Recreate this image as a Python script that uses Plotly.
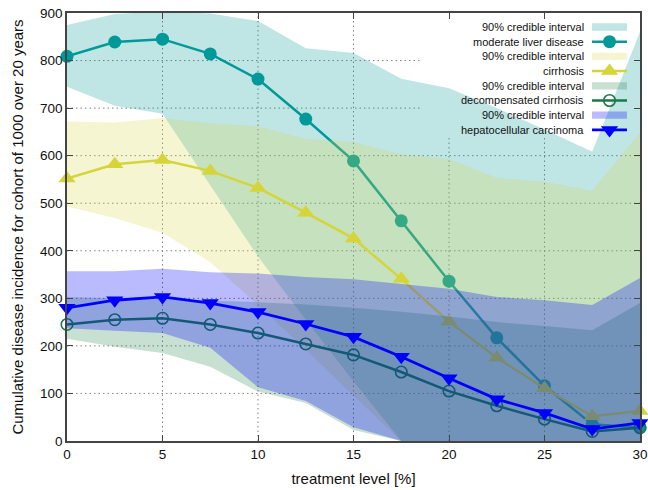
import plotly.graph_objects as go

# ---------------- data ----------------
treatment = [0, 2.5, 5, 7.5, 10, 12.5, 15, 17.5, 20, 22.5, 25, 27.5, 30]

moderate = [809, 839, 845, 814, 761, 677, 589, 463, 336, 217, 116, 35, 28]
moderate_lo = [745, 705, 688, 538, 388, 255, 125, 0, 0, 0, 0, 0, 0]
moderate_hi = [875, 898, 903, 899, 883, 826, 816, 762, 742, 700, 655, 608, 860]

cirrhosis = [552, 582, 591, 568, 532, 480, 426, 341, 251, 175, 111, 52, 63]
cirrhosis_lo = [493, 469, 438, 376, 286, 192, 95, 0, 0, 0, 0, 0, 0]
cirrhosis_hi = [672, 670, 679, 668, 662, 635, 629, 603, 593, 553, 545, 526, 648]

decomp = [245, 255, 258, 245, 227, 204, 181, 145, 105, 74, 46, 20, 28]
decomp_lo = [215, 198, 185, 156, 104, 80, 23, 0, 0, 0, 0, 0, 0]
decomp_hi = [303, 300, 300, 295, 292, 287, 280, 272, 262, 250, 242, 233, 290]

hcc = [280, 296, 303, 290, 271, 246, 219, 177, 132, 88, 59, 25, 38]
hcc_lo = [237, 232, 227, 196, 113, 84, 29, 0, 0, 0, 0, 0, 0]
hcc_hi = [357, 357, 362, 355, 352, 345, 340, 330, 320, 303, 296, 286, 343]

series_names = ["moderate liver disease", "cirrhosis",
                "decompensated cirrhosis", "hepatocellular carcinoma"]
band_label = "90% credible interval"

x_ticks = [0, 5, 10, 15, 20, 25, 30]
y_ticks = [0, 100, 200, 300, 400, 500, 600, 700, 800, 900]

x_title = "treatment level [%]"
y_title = "Cumulative disease incidence for cohort of 1000 over 20 years"

# ---------------- styles ----------------
FONT = "Liberation Sans, Arial, sans-serif"
styles = [
    dict(line="#009999", band="rgba(0,153,153,0.25)", symbol="circle", size=13,
         mline=0, mfill="#009999", width=2.5),
    dict(line="#d5d53a", band="rgba(215,215,70,0.25)", symbol="triangle-up", size=15,
         mline=0, mfill="#d5d53a", width=2.5),
    dict(line="#1a7a46", band="rgba(30,130,75,0.25)", symbol="circle-open", size=11.5,
         mline=1.6, mfill="#1a7a46", width=2.5),
    dict(line="#0000ff", band="rgba(0,0,255,0.27)", symbol="triangle-down", size=15,
         mline=0, mfill="#0000ff", width=2.8),
]
series = [(moderate, moderate_lo, moderate_hi),
          (cirrhosis, cirrhosis_lo, cirrhosis_hi),
          (decomp, decomp_lo, decomp_hi),
          (hcc, hcc_lo, hcc_hi)]

fig = go.Figure()

for (vals, lo, hi), st, name in zip(series, styles, series_names):
    fig.add_trace(go.Scatter(
        x=treatment + treatment[::-1], y=hi + lo[::-1],
        fill="toself", fillcolor=st["band"], mode="none",
        name=band_label, showlegend=False, hoverinfo="skip"))
    fig.add_trace(go.Scatter(
        x=treatment, y=vals, mode="lines+markers", name=name, showlegend=False,
        line=dict(color=st["line"], width=st["width"]),
        marker=dict(symbol=st["symbol"], size=st["size"], color=st["mfill"],
                    line=dict(width=st["mline"], color=st["mfill"])),
        cliponaxis=False))

# ---------------- manual gnuplot-style key (plot-area fraction coords) ----------------
KEY_TEXT_X = 0.9058
KEY_X0, KEY_XC, KEY_X1 = 0.9162, 0.9468, 0.9773
row_py = [27 + 14.7 * i for i in range(8)]
row_y = [(441 - p) / 428 for p in row_py]
SW_H = 0.0085

annotations = []
shapes = []
for i, (st, name) in enumerate(zip(styles, series_names)):
    yb = row_y[2 * i]
    yl = row_y[2 * i + 1]
    annotations.append(dict(x=KEY_TEXT_X, y=yb, xref="paper", yref="paper",
                            text=band_label, showarrow=False, xanchor="right",
                            yanchor="middle", font=dict(size=11, family=FONT, color="#111")))
    annotations.append(dict(x=KEY_TEXT_X, y=yl, xref="paper", yref="paper",
                            text=name, showarrow=False, xanchor="right",
                            yanchor="middle", font=dict(size=11, family=FONT, color="#111")))
    shapes.append(dict(type="rect", xref="paper", yref="paper",
                       x0=KEY_X0, x1=KEY_X1, y0=yb - SW_H, y1=yb + SW_H,
                       fillcolor=st["band"], line=dict(width=0), layer="above"))
    fig.add_trace(go.Scatter(
        x=[KEY_X0, KEY_X1], y=[yl, yl], xaxis="x2", yaxis="y2", mode="lines",
        line=dict(color=st["line"], width=st["width"]), showlegend=False,
        hoverinfo="skip"))
    fig.add_trace(go.Scatter(
        x=[KEY_XC], y=[yl], xaxis="x2", yaxis="y2", mode="markers",
        marker=dict(symbol=st["symbol"], size=st["size"], color=st["mfill"],
                    line=dict(width=st["mline"], color=st["mfill"])),
        showlegend=False, hoverinfo="skip", cliponaxis=False))

# ---------------- grid (dotted, interrupted by key area like gnuplot) ----------------
GRID_STYLE = dict(color="#808080", width=1, dash="1.5px,3px")
KEY_LEFT_X = 18.5
KEY_BOTTOM_Y = 637
for yv in y_ticks[1:-1]:
    x_end = x_ticks[-1] if yv <= 600 else KEY_LEFT_X
    shapes.append(dict(type="line", xref="x", yref="y", x0=x_ticks[0], x1=x_end,
                       y0=yv, y1=yv, line=GRID_STYLE, layer="below"))
for xv in x_ticks[1:-1]:
    y_end = y_ticks[-1] if xv <= 15 else KEY_BOTTOM_Y
    shapes.append(dict(type="line", xref="x", yref="y", x0=xv, x1=xv,
                       y0=y_ticks[0], y1=y_end, line=GRID_STYLE, layer="below"))

axis_common = dict(showgrid=False, zeroline=False, showline=True, linecolor="#444",
                   linewidth=1.5, mirror="ticks", ticks="inside", ticklen=6,
                   tickwidth=1.2, tickcolor="#444", automargin=False,
                   ticklabeloverflow="allow",
                   tickfont=dict(size=13.5, family=FONT, color="#111"))

fig.update_layout(
    width=648, height=490,
    margin=dict(l=67, r=8, t=13, b=49, autoexpand=False),
    paper_bgcolor="white", plot_bgcolor="white",
    font=dict(family=FONT, color="#111"),
    xaxis=dict(range=[0, 30], tickvals=x_ticks, **axis_common,
               title=dict(text=x_title, font=dict(size=15, family=FONT), standoff=13)),
    yaxis=dict(range=[0, 900], tickvals=y_ticks, **axis_common,
               title=dict(text=y_title, font=dict(size=15, family=FONT), standoff=13)),
    xaxis2=dict(overlaying="x", range=[0, 1], visible=False, fixedrange=True),
    yaxis2=dict(overlaying="y", range=[0, 1], visible=False, fixedrange=True),
    shapes=shapes,
    annotations=annotations,
    showlegend=False,
)

# remove the browser's default 8px body margin so the 648x490 figure fills the window
fig.write_html("out.html",
               config={"displayModeBar": False},
               post_script="document.body.style.margin='0';document.body.style.overflow='hidden';")
